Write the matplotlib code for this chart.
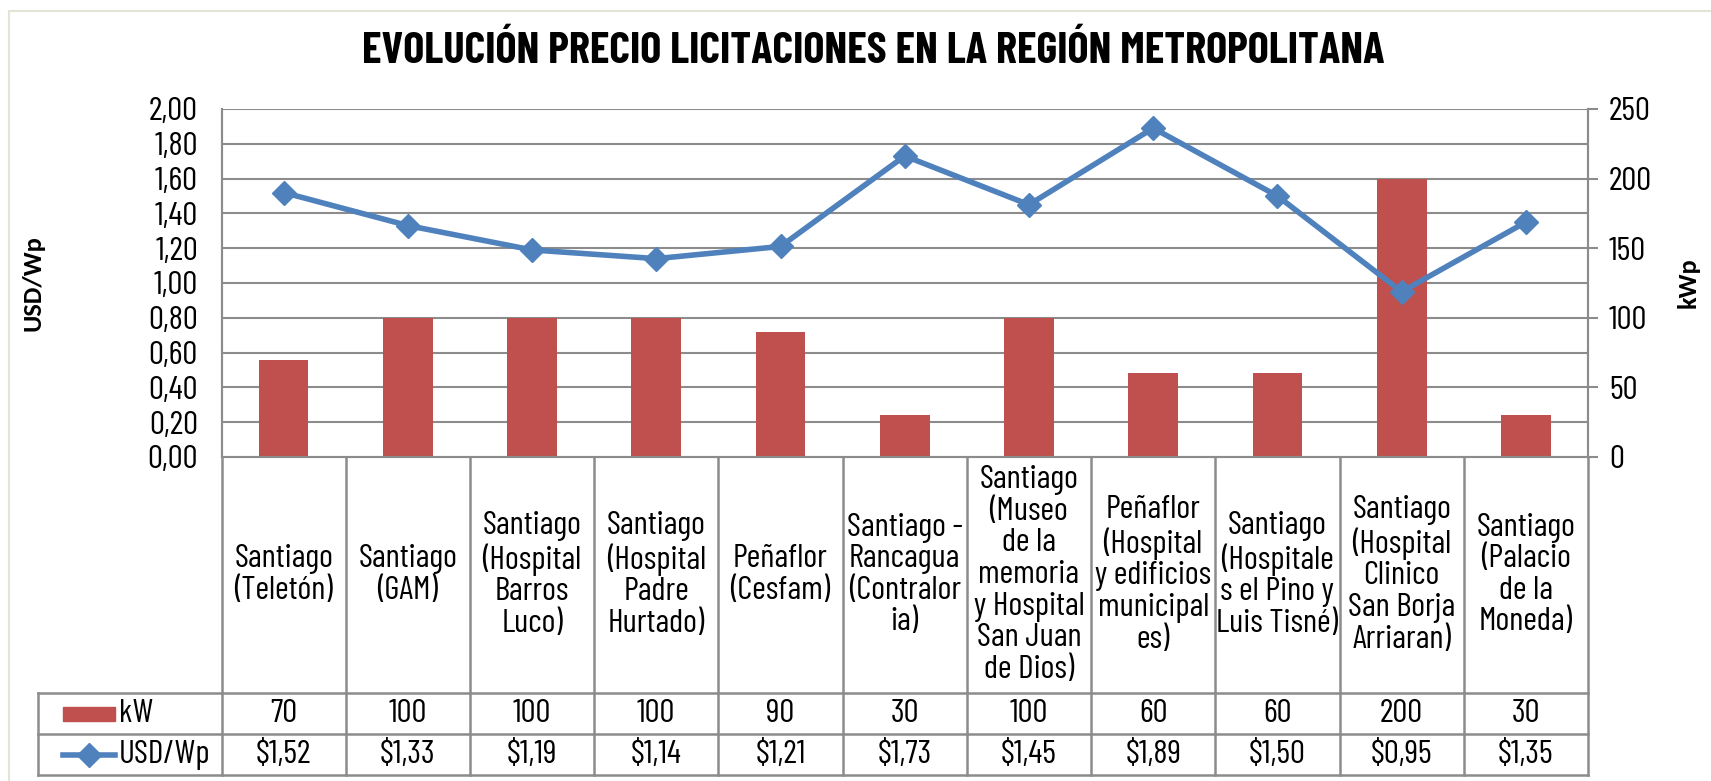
import matplotlib.pyplot as plt
import matplotlib.patches as mpatches
from matplotlib.lines import Line2D
import numpy as np

categorias = ['Santiago\n(Teletón)', 'Santiago\n(GAM)',
              'Santiago\n(Hospital\nBarros\nLuco)',
              'Santiago\n(Hospital\nPadre\nHurtado)',
              'Peñaflor\n(Cesfam)',
              'Santiago -\nRancagua\n(Contralor\nia)',
              'Santiago\n(Museo\nde la\nmemoria\ny Hospital\nSan Juan\nde Dios)',
              'Peñaflor\n(Hospital\ny edificios\nmunicipal\nes)',
              'Santiago\n(Hospitale\ns el Pino y\nLuis Tisné)',
              'Santiago\n(Hospital\nClinico\nSan Borja\nArriaran)',
              'Santiago\n(Palacio\nde la\nMoneda)']
kw = [70, 100, 100, 100, 90, 30, 100, 60, 60, 200, 30]
usd = [1.52, 1.33, 1.19, 1.14, 1.21, 1.73, 1.45, 1.89, 1.50, 0.95, 1.35]
ticks_izq = [0, 0.2, 0.4, 0.6, 0.8, 1.0, 1.2, 1.4, 1.6, 1.8, 2.0]
ticks_der = [0, 50, 100, 150, 200, 250]

narrow = ['Barlow Condensed', 'Roboto Condensed', 'IBM Plex Sans Condensed', 'DejaVu Sans']
plt.rcParams['font.family'] = narrow
label_font = ['Carlito', 'Liberation Sans', 'DejaVu Sans']

rojo = '#C0504D'
azul = '#4F81BD'
gris = '#8C8C8C'
fs = 24

W, H = 1711, 781
fig = plt.figure(figsize=(W / 100, H / 100), dpi=100)

# borde exterior del grafico
fig.patches.append(mpatches.Rectangle((9 / W, -0.1), 1.2, 1 - 11 / H + 0.1,
                                      transform=fig.transFigure, fill=False,
                                      ec='#E4E4D6', lw=1.5))

x0, x1, ytop, ybot = 221.5, 1588, 109, 457
ax = fig.add_axes([x0 / W, 1 - ybot / H, (x1 - x0) / W, (ybot - ytop) / H])
ax2 = ax.twinx()

index = np.arange(len(kw))
for t in ticks_izq[1:]:
    ax2.axhline(t * 125, color=gris, lw=1.5, zorder=0)
ax2.bar(index, kw, 0.4, color=rojo, zorder=2)
ax.plot(index, usd, color=azul, lw=4, marker='D', ms=12, zorder=5)
ax.set_zorder(ax2.get_zorder() + 1)
ax.patch.set_visible(False)

ax.set_xlim(-0.5, len(kw) - 0.5)
ax.set_ylim(0, 2)
ax2.set_ylim(0, 250)
ax.set_yticks(ticks_izq)
ax.set_yticklabels([('%.2f' % t).replace('.', ',') for t in ticks_izq])
ax2.set_yticks(ticks_der)
ax.set_xticks([])
for a in (ax, ax2):
    for s in a.spines.values():
        s.set_color(gris)
        s.set_linewidth(1.5)
    a.spines['top'].set_visible(False)
ax.tick_params(axis='y', length=0, labelsize=fs, pad=17)
ax2.tick_params(axis='y', length=7, width=1.5, color=gris, labelsize=fs, pad=8)

fig.text(33 / W, 1 - 283 / H, 'USD/Wp', rotation=90, ha='center', va='center',
         fontsize=19, fontweight='bold', family=label_font)
fig.text(1688 / W, 1 - 283 / H, 'kWp', rotation=90, ha='center', va='center',
         fontsize=19, fontweight='bold', family=label_font)
fig.text(873 / W, 1 - 51 / H, 'EVOLUCIÓN PRECIO LICITACIONES EN LA REGIÓN METROPOLITANA',
         ha='center', va='center', fontsize=32, fontweight='bold')

# tabla de datos
ybt, yk, yu, yend = 457, 693, 734, 775
tab = fig.add_axes([x0 / W, 1 - yend / H, (x1 - x0) / W, (yend - ybt) / H])
tab.set_xlim(-0.5, len(kw) - 0.5)
tab.set_ylim(yend, ybt)
tab.axis('off')
colw = (x1 - x0) / len(kw)
xl = -0.5 - (x0 - 38) / colw
lk = dict(color=gris, lw=1.8, clip_on=False)
for i in range(len(kw) + 1):
    tab.plot([i - 0.5, i - 0.5], [ybt, yend], **lk)
for y in (yk, yu, yend):
    tab.plot([xl, len(kw) - 0.5], [y, y], **lk)
tab.plot([xl, xl], [yk, yend], **lk)

for i in index:
    tab.text(i, (ybt + yk) / 2, categorias[i], ha='center', va='center',
             fontsize=fs, linespacing=1.07)
    tab.text(i, (yk + yu) / 2, str(kw[i]), ha='center', va='center', fontsize=fs)
    tab.text(i, (yu + yend) / 2, ('$%.2f' % usd[i]).replace('.', ','),
             ha='center', va='center', fontsize=fs)

px = lambda p: -0.5 - (x0 - p) / colw
tab.add_patch(mpatches.Rectangle((px(63), (yk + yu) / 2 - 7), px(115) - px(63), 14,
                                 color=rojo, clip_on=False))
tab.text(px(119), (yk + yu) / 2, 'kW', ha='left', va='center', fontsize=fs)
tab.add_line(Line2D([px(63), px(115)], [(yu + yend) / 2] * 2, color=azul, lw=4,
                    clip_on=False))
tab.add_line(Line2D([px(89)], [(yu + yend) / 2], color=azul, marker='D', ms=12,
                    clip_on=False))
tab.text(px(119), (yu + yend) / 2, 'USD/Wp', ha='left', va='center', fontsize=fs)

fig.savefig('out.png', dpi=100)
